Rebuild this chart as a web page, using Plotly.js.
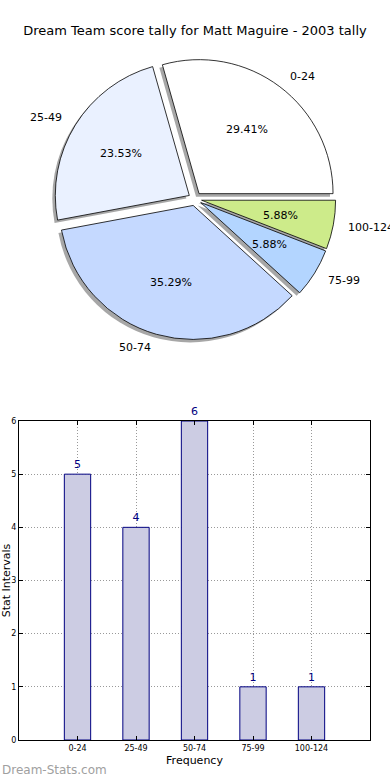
<!DOCTYPE html>
<html><head><meta charset="utf-8">
<script src="https://cdn.plot.ly/plotly-3.0.1.min.js"></script>
<style>html,body{margin:0;padding:0;background:#fff}#chart{width:390px;height:780px}</style>
</head><body><div id="chart"></div>
<script>
// ---- data ----
const categories = ['0-24', '25-49', '50-74', '75-99', '100-124'];
const counts = [5, 4, 6, 1, 1];
const sliceColors = ['#FFFFFF', '#EAF1FF', '#C5D9FF', '#B3D5FF', '#CDEB8A'];
const yTicks = [0, 1, 2, 3, 4, 5, 6];
const chartTitle = 'Dream Team score tally for Matt Maguire - 2003 tally';
const watermark = 'Dream-Stats.com';

// ---- layout constants ----
const W = 390, H = 780;
const pull = 0.05;
const cx = 195, cy = 199, R = 134;
const half = R * (1 + pull);
const pieDomX = [(cx - half) / W, (cx + half) / W];
const pieDomY = [1 - (cy + half) / H, 1 - (cy - half) / H];
const sh = 3;
const shadowDomX = [pieDomX[0] - sh / W, pieDomX[1] - sh / W];
const shadowDomY = [pieDomY[0] - sh / H, pieDomY[1] - sh / H];
// overlay axes for pie texts: 1 unit = pie radius, centred on the pie
const ext = cx / R;
const ovDomX = [0, 1];
const ovDomY = [1 - (cy + ext * R) / H, 1 - (cy - ext * R) / H];
const FONT = 'DejaVu Sans, sans-serif';

const total = counts.reduce((a, b) => a + b, 0);
// first slice starts at 3 o'clock and runs counterclockwise (Plotly places the
// first counterclockwise slice just clockwise of `rotation`)
const startRotation = 90 - counts[0] / total * 360;

let cum = 0;
const textAnns = [];
counts.forEach((v, i) => {
  const mid = (cum + v / 2) / total * 2 * Math.PI;
  cum += v;
  const c = Math.cos(mid), s = Math.sin(mid);
  textAnns.push({
    xref: 'x2', yref: 'y2', x: (pull + 0.6) * c, y: (pull + 0.6) * s,
    text: (v / total * 100).toFixed(2) + '%', showarrow: false,
    xanchor: 'center', yanchor: 'middle',
    font: {family: FONT, size: 11, color: '#000'}
  });
  textAnns.push({
    xref: 'x2', yref: 'y2', x: (pull + 1.1) * c, y: (pull + 1.1) * s,
    text: categories[i], showarrow: false,
    xanchor: c >= 0 ? 'left' : 'right', yanchor: 'middle',
    font: {family: FONT, size: 11, color: '#000'}
  });
});

const pieCommon = {
  type: 'pie', labels: categories, values: counts, sort: false,
  direction: 'counterclockwise', rotation: startRotation,
  pull: counts.map(() => pull), textinfo: 'none', hoverinfo: 'skip', showlegend: false
};

const traces = [
  Object.assign({}, pieCommon, {
    domain: {x: shadowDomX, y: shadowDomY},
    marker: {colors: counts.map(() => '#8a8a8a'), line: {width: 0}},
    opacity: 0.75
  }),
  Object.assign({}, pieCommon, {
    domain: {x: pieDomX, y: pieDomY},
    marker: {colors: sliceColors, line: {color: '#000', width: 0.8}}
  }),
  {
    type: 'bar', x: categories, y: counts, width: 0.45,
    marker: {color: '#CCCCE3', line: {color: '#000080', width: 1}},
    text: counts.map(String), textposition: 'outside',
    textfont: {family: FONT, size: 11, color: '#000080'},
    cliponaxis: false, hoverinfo: 'skip', showlegend: false
  }
];

const layout = {
  width: W, height: H,
  margin: {l: 0, r: 0, t: 0, b: 0},
  paper_bgcolor: '#fff', plot_bgcolor: '#fff',
  font: {family: FONT, color: '#000'},
  title: {text: chartTitle, x: 0.5, xanchor: 'center', y: 1 - 30 / H, yanchor: 'middle',
          font: {family: FONT, size: 13, color: '#000'}},
  xaxis2: {domain: ovDomX, range: [-ext, ext], visible: false, fixedrange: true, anchor: 'y2'},
  yaxis2: {domain: ovDomY, range: [-ext, ext], visible: false, fixedrange: true, anchor: 'x2'},
  xaxis: {
    domain: [19 / W, 370 / W], anchor: 'y', type: 'category', range: [-1, 5],
    showgrid: true, gridcolor: '#999', griddash: '1px,2px', gridwidth: 1,
    showline: true, linecolor: '#000', linewidth: 1, mirror: 'allticks',
    ticks: 'inside', ticklen: 4, tickcolor: '#000',
    tickfont: {family: FONT, size: 8, color: '#000'},
    title: {text: 'Frequency', font: {family: FONT, size: 11, color: '#000'}, standoff: 4},
    zeroline: false, fixedrange: true
  },
  yaxis: {
    domain: [1 - 740 / H, 1 - 421 / H], anchor: 'x', range: [0, 6],
    tickvals: yTicks, ticktext: yTicks.map(String),
    showgrid: true, gridcolor: '#999', griddash: '1px,2px', gridwidth: 1,
    showline: true, linecolor: '#000', linewidth: 1, mirror: 'allticks',
    ticks: 'inside', ticklen: 4, tickcolor: '#000',
    tickfont: {family: FONT, size: 8, color: '#000'},
    title: {text: 'Stat Intervals', font: {family: FONT, size: 11, color: '#000'}, standoff: 5},
    zeroline: false, fixedrange: true
  },
  annotations: textAnns.concat([{
    text: watermark, xref: 'paper', yref: 'paper', x: 0, y: 1 - 770 / H,
    xanchor: 'left', yanchor: 'middle', showarrow: false,
    font: {family: FONT, size: 12, color: '#a0a0a0'}
  }])
};

Plotly.newPlot('chart', traces, layout, {displayModeBar: false, staticPlot: true});
</script></body></html>
